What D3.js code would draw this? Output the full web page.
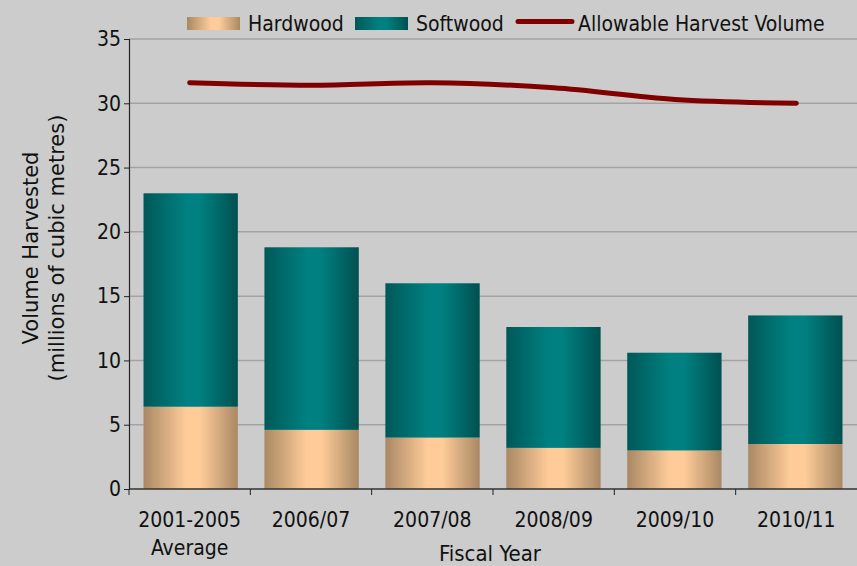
<!DOCTYPE html>
<html>
<head>
<meta charset="utf-8">
<script src="https://cdn.jsdelivr.net/npm/d3@7"></script>
<style>
  html, body { margin: 0; padding: 0; background: #cbcccb; }
  svg { display: block; }
  text { font-family: "DejaVu Sans Condensed", "DejaVu Sans", sans-serif; fill: #111; }
</style>
</head>
<body>
<svg id="chart" width="857" height="566"></svg>
<script>
// Harvest volumes by fiscal year (millions of cubic metres)
const categories = ["2001-2005\nAverage", "2006/07", "2007/08", "2008/09", "2009/10", "2010/11"];
const hardwood = [6.4, 4.6, 4.0, 3.2, 3.0, 3.5];
const softwood = [16.6, 14.2, 12.0, 9.4, 7.6, 10.0];
const allowable = [31.6, 31.4, 31.6, 31.2, 30.3, 30.0];
const yTicks = [0, 5, 10, 15, 20, 25, 30, 35];
const seriesNames = ["Hardwood", "Softwood", "Allowable Harvest Volume"];

const svg = d3.select("#chart");
const margin = { left: 129, right: 0, top: 39, bottom: 77 };
const W = 857, H = 566;
const plotBottom = H - margin.bottom;
const FS = 21;

const x = d3.scaleBand().domain(categories).range([margin.left, W - margin.right]).paddingInner(0.22).paddingOuter(0.12);
const xOuter = d3.scaleBand().domain(categories).range([margin.left, W - margin.right]);
const y = d3.scaleLinear().domain([0, 35]).range([plotBottom, margin.top]);

// Horizontal shading for the bar fills
const defs = svg.append("defs");
function barGradient(id, edgeL, mid, edgeR) {
  const g = defs.append("linearGradient").attr("id", id).attr("x1", "0%").attr("x2", "100%").attr("y1", "0%").attr("y2", "0%");
  g.append("stop").attr("offset", "0%").attr("stop-color", edgeL);
  g.append("stop").attr("offset", "45%").attr("stop-color", mid);
  g.append("stop").attr("offset", "60%").attr("stop-color", mid);
  g.append("stop").attr("offset", "100%").attr("stop-color", edgeR);
}
barGradient("gradHard", "#a98864", "#ffcc99", "#a98864");
barGradient("gradSoft", "#005858", "#008080", "#005050");

// Gridlines
svg.append("g").selectAll("line").data(yTicks.filter(d => d > 0)).join("line")
  .attr("x1", margin.left).attr("x2", W)
  .attr("y1", d => y(d)).attr("y2", d => y(d))
  .attr("stroke", "#a3a3a3").attr("stroke-width", 1.5);

// Stacked bars
const stackData = categories.map((c, i) => ({ cat: c, Hardwood: hardwood[i], Softwood: softwood[i] }));
const stack = d3.stack().keys(["Hardwood", "Softwood"])(stackData);
const fills = { Hardwood: "url(#gradHard)", Softwood: "url(#gradSoft)" };
svg.append("g").selectAll("g").data(stack).join("g")
  .attr("fill", d => fills[d.key])
  .selectAll("rect").data(d => d).join("rect")
  .attr("x", d => x(d.data.cat))
  .attr("width", x.bandwidth())
  .attr("y", d => y(d[1]))
  .attr("height", d => y(d[0]) - y(d[1]));

// Y axis
const yAxis = svg.append("g").attr("transform", `translate(${margin.left},0)`)
  .call(d3.axisLeft(y).tickValues(yTicks).tickSize(5).tickPadding(3).tickFormat(d3.format("d")));
yAxis.select(".domain").attr("stroke", "#222").attr("stroke-width", 1.2);
yAxis.selectAll(".tick line").attr("stroke", "#222");
yAxis.selectAll(".tick text").attr("font-size", FS).attr("font-family", "DejaVu Sans Condensed, DejaVu Sans, sans-serif").attr("fill", "#111");

// X axis with ticks at category boundaries
const xAxisG = svg.append("g");
xAxisG.append("line").attr("x1", margin.left).attr("x2", W).attr("y1", plotBottom).attr("y2", plotBottom)
  .attr("stroke", "#333").attr("stroke-width", 1.5);
xAxisG.selectAll("line.tk").data(categories).join("line").attr("class", "tk")
  .attr("x1", d => xOuter(d)).attr("x2", d => xOuter(d))
  .attr("y1", plotBottom).attr("y2", plotBottom + 6).attr("stroke", "#222");
const xl = xAxisG.selectAll("text").data(categories).join("text")
  .attr("text-anchor", "middle").attr("font-size", FS)
  .attr("transform", d => `translate(${xOuter(d) + xOuter.bandwidth() / 2},${plotBottom + 38})`);
xl.selectAll("tspan").data(d => d.split("\n")).join("tspan")
  .attr("x", 0).attr("dy", (d, i) => i === 0 ? 0 : 28).text(d => d);

// Axis titles
svg.append("text").attr("x", 490).attr("y", 561).attr("text-anchor", "middle")
  .attr("font-size", 22).text("Fiscal Year");
const yt = svg.append("text").attr("transform", "translate(38,248) rotate(-90)").attr("text-anchor", "middle")
  .attr("font-size", FS).style("font-family", "DejaVu Sans, sans-serif");
yt.append("tspan").attr("x", 0).attr("dy", 0).text("Volume Harvested");
yt.append("tspan").attr("x", 0).attr("dy", 26).text("(millions of cubic metres)");

// Allowable harvest line
const line = d3.line()
  .x((d, i) => xOuter(categories[i]) + xOuter.bandwidth() / 2)
  .y(d => y(d))
  .curve(d3.curveCatmullRom.alpha(0));
svg.append("path").datum(allowable).attr("d", line)
  .attr("fill", "none").attr("stroke", "#800000").attr("stroke-width", 5)
  .attr("stroke-linecap", "round").attr("stroke-linejoin", "round");

// Legend
const legend = svg.append("g");
legend.append("rect").attr("x", 187).attr("y", 17).attr("width", 53).attr("height", 13).attr("fill", "url(#gradHard)");
legend.append("text").attr("x", 248).attr("y", 31).attr("font-size", FS).text(seriesNames[0]);
legend.append("rect").attr("x", 355).attr("y", 17).attr("width", 53).attr("height", 13).attr("fill", "url(#gradSoft)");
legend.append("text").attr("x", 416).attr("y", 31).attr("font-size", FS).text(seriesNames[1]);
legend.append("line").attr("x1", 518).attr("x2", 572).attr("y1", 21.5).attr("y2", 21.5)
  .attr("stroke", "#800000").attr("stroke-width", 5).attr("stroke-linecap", "round");
legend.append("text").attr("x", 578).attr("y", 31).attr("font-size", FS).text(seriesNames[2]);
</script>
</body>
</html>
